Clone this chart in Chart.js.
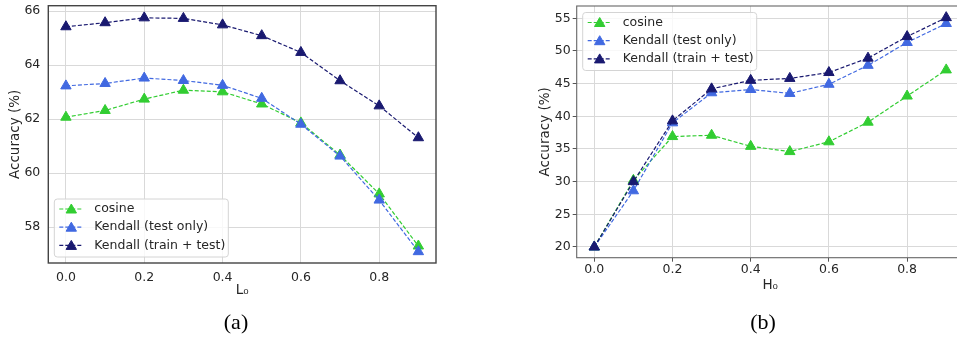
<!DOCTYPE html>
<html>
<head>
<meta charset="utf-8">
<script src="https://cdn.jsdelivr.net/npm/chart.js@4"></script>
<style>
  body { margin: 0; width: 957px; height: 339px; overflow: hidden; background: #fff; position: relative; }
  .panel { position: absolute; top: -20px; width: 480px; height: 359px; }
  .cap { position: absolute; top: 322px; transform: translate(-50%, -50%);
         font-family: 'Liberation Serif', 'Times New Roman', serif; font-size: 22px; color: #000; }
</style>
</head>
<body>
<div class="panel" style="left:0px"><canvas id="chartA" width="480" height="359"></canvas></div>
<div class="panel" style="left:500px"><canvas id="chartB" width="480" height="359"></canvas></div>
<div class="cap" style="left:236px">(a)</div>
<div class="cap" style="left:763px">(b)</div>
<script>
// data
const xVals = [0.0, 0.1, 0.2, 0.3, 0.4, 0.5, 0.6, 0.7, 0.8, 0.9];
const xTicks = [0.0, 0.2, 0.4, 0.6, 0.8];

const seriesNames = ['cosine', 'Kendall (test only)', 'Kendall (train + test)'];
const seriesColors = ['#32cd32', '#4169e1', '#191970'];

// (a) L0
const leftYTicks = [58, 60, 62, 64, 66];
const leftCosine = [62.07, 62.32, 62.74, 63.07, 63.01, 62.56, 61.86, 60.67, 59.23, 57.30];
const leftTestOnly = [63.23, 63.32, 63.52, 63.43, 63.25, 62.77, 61.81, 60.63, 59.00, 57.09];
const leftTrainTest = [65.42, 65.57, 65.75, 65.73, 65.49, 65.09, 64.47, 63.42, 62.49, 61.31];

// (b) H0
const rightYTicks = [20, 25, 30, 35, 40, 45, 50, 55];
const rightCosine = [20.0, 30.2, 36.9, 37.1, 35.4, 34.6, 36.1, 39.1, 43.1, 47.1];
const rightTestOnly = [20.0, 28.6, 39.0, 43.6, 44.1, 43.5, 44.9, 47.8, 51.3, 54.2];
const rightTrainTest = [20.0, 30.0, 39.3, 44.2, 45.5, 45.8, 46.7, 48.9, 52.2, 55.1];

const textColor = '#262626';
const gridColor = '#d9d9d9';
const tickFont = { family: 'DejaVu Sans', size: 12.5 };
const titleFont = { family: 'DejaVu Sans', size: 13.5 };

function makeDatasets(seriesList) {
  return seriesList.map((vals, i) => ({
    label: seriesNames[i],
    data: vals.map((v, j) => ({ x: xVals[j], y: v })),
    borderColor: seriesColors[i],
    backgroundColor: seriesColors[i],
    borderWidth: 1.2,
    borderDash: [4, 2],
    pointStyle: 'triangle',
    pointRadius: 6,
    pointHoverRadius: 6,
    pointBorderWidth: 1,
    order: 3 - i, // later series on top, like matplotlib
    tension: 0
  }));
}

// box around the plot area
const framePlugin = {
  id: 'frame',
  beforeDatasetsDraw(chart, args, opts) {
    const { ctx, chartArea: a } = chart;
    ctx.save();
    ctx.strokeStyle = opts.color;
    ctx.lineWidth = opts.width;
    ctx.strokeRect(a.left, a.top, a.right - a.left, a.bottom - a.top);
    ctx.restore();
  }
};

// matplotlib-like legend: dashed line sample with a triangle in the middle
const boxLegend = {
  id: 'boxLegend',
  afterDatasetsDraw(chart, args, opts) {
    const { ctx, chartArea: a } = chart;
    const w = 174, h = 58;
    const x = a.left + 6;
    const y = opts.corner === 'bottom' ? a.bottom - 6 - h : a.top + 6.5;
    ctx.save();
    ctx.beginPath();
    ctx.roundRect(x, y, w, h, 3);
    ctx.fillStyle = 'rgba(255,255,255,0.8)';
    ctx.fill();
    ctx.strokeStyle = '#d4d4d4';
    ctx.lineWidth = 1;
    ctx.stroke();
    chart.data.datasets.forEach((ds, i) => {
      const cy = y + 10 + i * 18.2;
      ctx.setLineDash([4, 2]);
      ctx.strokeStyle = ds.borderColor;
      ctx.lineWidth = 1.2;
      ctx.beginPath();
      ctx.moveTo(x + 5, cy);
      ctx.lineTo(x + 29, cy);
      ctx.stroke();
      ctx.setLineDash([]);
      const r = 6, cx = x + 17, ty = cy + 1;
      ctx.beginPath();
      ctx.moveTo(cx, ty - r);
      ctx.lineTo(cx - 0.866 * r, ty + 0.5 * r);
      ctx.lineTo(cx + 0.866 * r, ty + 0.5 * r);
      ctx.closePath();
      ctx.fillStyle = ds.borderColor;
      ctx.fill();
      ctx.lineWidth = 1;
      ctx.stroke();
      ctx.fillStyle = textColor;
      ctx.font = '12.5px "DejaVu Sans"';
      ctx.textBaseline = 'middle';
      ctx.textAlign = 'left';
      ctx.fillText(ds.label, x + 40, cy);
    });
    ctx.restore();
  }
};

function buildChart(id, cfg) {
  return new Chart(document.getElementById(id).getContext('2d'), {
    type: 'line',
    data: { datasets: makeDatasets(cfg.series) },
    plugins: [framePlugin, boxLegend],
    options: {
      responsive: false,
      animation: false,
      layout: { padding: cfg.padding },
      scales: {
        x: {
          type: 'linear',
          min: -0.045,
          max: 0.945,
          afterBuildTicks: s => { s.ticks = xTicks.map(v => ({ value: v })); },
          afterFit: s => { s.height = cfg.xHeight; },
          ticks: { font: tickFont, color: textColor, padding: cfg.xTickPad,
                   callback: v => v.toFixed(1) },
          grid: { color: gridColor, lineWidth: 1, drawTicks: cfg.ticks, tickLength: 4, tickColor: '#555' },
          border: { display: false },
          title: { display: true, text: cfg.xTitle, font: titleFont, color: textColor,
                   padding: { top: 0, bottom: cfg.xTitlePad } }
        },
        y: {
          type: 'linear',
          min: cfg.yMin,
          max: cfg.yMax,
          afterBuildTicks: s => { s.ticks = cfg.yTicks.map(v => ({ value: v })); },
          afterFit: s => { s.width = cfg.yWidth; },
          ticks: { font: tickFont, color: textColor, padding: cfg.yTickPad },
          grid: { color: gridColor, lineWidth: 1, drawTicks: cfg.ticks, tickLength: 4, tickColor: '#555' },
          border: { display: false },
          title: { display: true, text: 'Accuracy (%)', font: titleFont, color: textColor,
                   padding: { top: cfg.yTitlePad, bottom: 0 } }
        }
      },
      plugins: {
        legend: { display: false },
        tooltip: { enabled: false },
        frame: { color: cfg.frameColor, width: cfg.frameWidth },
        boxLegend: { corner: cfg.legendCorner }
      }
    }
  });
}

const chartA = buildChart('chartA', {
  series: [leftCosine, leftTestOnly, leftTrainTest],
  padding: { left: 0, top: 25.7, right: 44, bottom: 0 },
  yMin: 56.67, yMax: 66.2, yTicks: leftYTicks,
  xHeight: 76, yWidth: 48.3,
  xTickPad: 7, yTickPad: 8, ticks: false,
  xTitle: 'L\u2080', xTitlePad: 40.2, yTitlePad: 6.9,
  frameColor: '#444', frameWidth: 1.4,
  legendCorner: 'bottom'
});

const chartB = buildChart('chartB', {
  series: [rightCosine, rightTestOnly, rightTrainTest],
  padding: { left: 0, top: 26, right: 16.2, bottom: 0 },
  yMin: 18.36, yMax: 56.88, yTicks: rightYTicks,
  xHeight: 81.3, yWidth: 76.7,
  xTickPad: 1, yTickPad: 2, ticks: true,
  xTitle: 'H\u2080', xTitlePad: 45.9, yTitlePad: 36.9,
  frameColor: '#666', frameWidth: 1.1,
  legendCorner: 'top'
});
</script>
</body>
</html>
